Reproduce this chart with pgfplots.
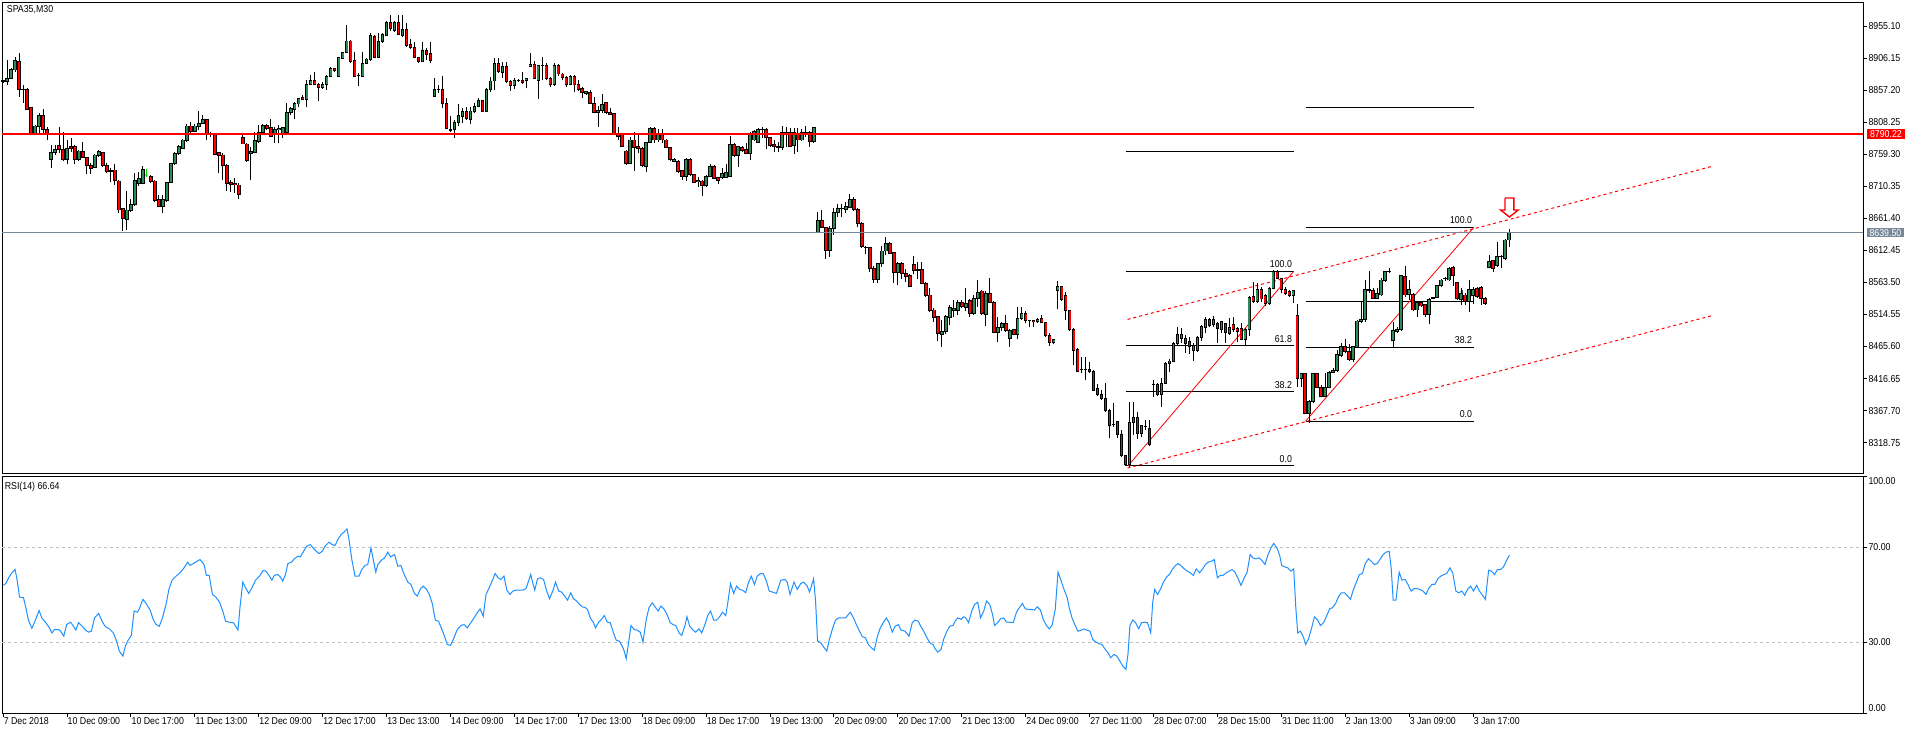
\documentclass[border=0pt]{standalone}
\usepackage{pgfplots}
\pgfplotsset{compat=1.18}
\usepackage{pgfplotstable}
\usetikzlibrary{arrows.meta}
\usepackage{fontspec}
\setmainfont{Liberation Sans}
\newfontfamily\mtfont[FakeStretch=0.88]{Liberation Sans}
\newcommand{\lab}{\mtfont\fontsize{10bp}{12bp}\selectfont}
\definecolor{mtgreen}{RGB}{46,139,87}
\definecolor{bidgray}{RGB}{119,136,153}
\definecolor{rsiblue}{RGB}{30,144,255}
\definecolor{silverc}{RGB}{192,192,192}

\pgfplotstableread{
i o h l c
0 8871.0 8873.0 8868.0 8872.0
1 8870.1 8903.2 8865.0 8875.2
2 8875.2 8890.5 8875.0 8889.4
3 8887.9 8908.3 8885.4 8901.7
4 8900.6 8913.4 8847.2 8858.4
5 8858.4 8865.0 8837.0 8858.0
6 8858.4 8859.9 8826.8 8827.8
7 8830.9 8832.0 8791.0 8791.2
8 8791.2 8804.0 8790.0 8802.4
9 8801.4 8821.7 8788.7 8818.2
10 8818.2 8828.4 8788.7 8797.3
11 8797.3 8801.4 8781.0 8789.7
12 8751.5 8773.4 8738.8 8762.2
13 8761.7 8773.4 8758.1 8766.8
14 8771.9 8801.4 8760.7 8765.8
15 8766.8 8793.7 8749.5 8750.5
16 8751.5 8781.0 8743.9 8768.3
17 8770.8 8783.6 8763.2 8767.8
18 8770.8 8773.4 8743.9 8751.5
19 8751.5 8766.0 8749.0 8764.2
20 8763.2 8778.5 8753.0 8754.0
21 8754.0 8755.6 8729.1 8741.8
22 8741.8 8745.4 8728.6 8737.2
23 8739.3 8759.0 8738.0 8758.1
24 8757.1 8765.8 8755.6 8762.7
25 8762.2 8763.2 8740.3 8741.8
26 8742.8 8745.4 8730.1 8732.7
27 8733.7 8737.8 8717.4 8733.0
28 8735.2 8743.9 8712.3 8718.9
29 8718.4 8720.0 8670.1 8674.1
30 8675.7 8676.7 8642.6 8660.4
31 8658.9 8703.1 8643.6 8674.1
32 8673.1 8690.9 8671.6 8681.8
33 8681.8 8730.1 8680.2 8719.9
34 8714.8 8732.7 8710.8 8722.5
35 8714.8 8741.3 8713.8 8736.2
37 8726.0 8727.6 8715.9 8717.4
38 8718.4 8720.0 8685.8 8687.9
39 8689.4 8697.0 8678.2 8679.2
40 8679.2 8697.0 8670.1 8689.4
41 8688.4 8717.4 8686.8 8716.4
42 8715.9 8746.0 8715.0 8745.4
43 8744.4 8763.2 8742.8 8760.7
44 8760.7 8773.4 8758.1 8770.8
45 8768.3 8782.0 8767.0 8781.0
46 8780.0 8805.5 8778.5 8802.4
47 8802.4 8809.0 8792.2 8793.7
48 8794.7 8805.0 8793.0 8802.4
49 8801.4 8825.3 8796.3 8806.5
50 8806.5 8819.2 8805.5 8811.6
51 8811.6 8813.1 8781.0 8791.2
52 8791.2 8793.7 8786.1 8790.7
53 8791.2 8792.2 8758.1 8759.6
54 8761.7 8763.2 8730.1 8757.1
55 8758.1 8760.7 8719.9 8741.8
56 8742.8 8743.9 8703.1 8714.8
57 8715.9 8719.9 8702.1 8713.3
58 8714.8 8722.5 8699.6 8712.3
59 8712.3 8714.8 8690.9 8698.0
60 8784.6 8788.7 8774.4 8774.9
61 8774.9 8775.9 8748.0 8749.0
62 8760.7 8770.8 8719.9 8763.2
63 8761.7 8793.7 8760.7 8779.5
64 8778.5 8803.9 8776.9 8792.2
65 8792.2 8805.5 8791.2 8803.9
66 8803.9 8805.5 8796.3 8798.8
67 8799.9 8813.1 8785.1 8787.1
68 8788.7 8801.4 8775.9 8797.3
69 8796.3 8803.9 8775.9 8798.8
70 8791.2 8801.4 8783.6 8799.9
71 8792.2 8837.0 8791.2 8823.3
72 8822.8 8831.9 8819.2 8828.4
73 8827.8 8839.6 8812.6 8837.0
74 8836.0 8845.7 8830.9 8844.6
75 8846.2 8849.7 8842.1 8843.1
76 8843.1 8872.6 8830.9 8866.0
77 8866.0 8880.3 8865.0 8872.6
78 8872.6 8885.4 8865.0 8866.5
79 8866.5 8867.6 8841.1 8860.9
80 8860.9 8870.1 8858.4 8866.5
81 8866.5 8880.3 8857.4 8878.7
82 8878.7 8893.0 8877.7 8890.5
83 8890.5 8891.5 8885.4 8886.4
84 8878.7 8908.3 8877.7 8907.3
85 8905.7 8915.9 8904.2 8914.9
86 8914.9 8956.6 8913.4 8932.2
87 8932.2 8933.7 8899.1 8900.6
88 8901.7 8915.9 8876.7 8877.7
89 8879.7 8882.8 8863.5 8879.2
90 8878.7 8915.9 8877.7 8898.1
91 8898.1 8906.0 8897.0 8904.7
92 8903.2 8943.9 8902.2 8940.3
93 8939.8 8940.8 8905.7 8907.3
94 8907.3 8943.9 8905.7 8931.2
95 8931.2 8943.9 8929.6 8941.4
96 8940.3 8963.2 8939.8 8960.7
97 8960.7 8971.9 8948.0 8951.5
98 8948.0 8963.2 8946.4 8960.7
99 8960.7 8971.9 8941.4 8942.4
100 8940.3 8971.9 8938.8 8950.0
101 8950.0 8959.2 8923.5 8925.1
102 8927.1 8934.7 8919.5 8922.0
103 8922.0 8931.2 8905.7 8907.3
104 8907.3 8908.3 8899.1 8900.6
105 8900.6 8931.2 8900.0 8917.4
106 8918.4 8921.0 8903.2 8911.8
107 8913.4 8931.2 8899.1 8901.7
108 8847.2 8875.2 8847.0 8858.4
109 8858.4 8865.0 8853.3 8858.0
110 8858.4 8878.7 8829.4 8837.0
111 8837.0 8844.6 8797.3 8798.8
112 8796.3 8817.7 8793.7 8796.0
113 8796.3 8811.6 8783.6 8808.0
114 8807.5 8836.0 8802.4 8817.7
115 8816.7 8829.4 8806.5 8824.3
116 8824.3 8830.9 8811.6 8813.1
117 8812.6 8831.9 8805.5 8825.3
118 8823.8 8837.0 8821.7 8832.9
119 8832.9 8844.6 8830.9 8840.6
120 8840.6 8842.1 8824.0 8824.3
121 8824.3 8859.9 8824.0 8857.4
122 8857.4 8877.7 8854.8 8871.1
123 8871.1 8905.7 8857.4 8897.1
124 8897.1 8905.7 8882.8 8885.4
125 8884.3 8900.6 8875.2 8893.0
126 8894.0 8900.6 8867.6 8870.1
127 8870.1 8872.6 8856.4 8863.5
128 8864.0 8875.2 8858.4 8872.6
129 8872.1 8873.6 8870.1 8872.2
130 8872.6 8885.4 8866.5 8869.1
131 8871.6 8876.2 8859.9 8874.2
132 8893.0 8914.4 8892.0 8896.6
133 8896.6 8901.7 8873.7 8875.2
134 8871.6 8896.0 8844.1 8895.5
135 8895.5 8908.3 8872.6 8895.3
136 8895.5 8898.1 8872.6 8875.2
137 8875.2 8877.7 8861.4 8866.0
138 8866.0 8898.1 8863.5 8895.5
139 8895.5 8897.1 8878.7 8881.8
140 8881.8 8883.8 8872.6 8876.7
141 8876.7 8878.7 8861.4 8866.5
142 8866.5 8880.3 8865.0 8877.7
143 8877.7 8880.3 8854.8 8865.0
144 8866.5 8872.6 8856.4 8858.4
145 8859.9 8862.5 8844.6 8853.3
146 8851.8 8856.0 8850.0 8854.8
147 8853.8 8857.4 8836.0 8837.0
148 8837.0 8847.2 8821.7 8823.3
149 8823.3 8832.9 8801.4 8826.8
150 8825.8 8850.8 8822.8 8834.5
151 8838.0 8839.6 8820.2 8822.8
152 8823.3 8829.4 8819.2 8820.2
153 8821.7 8822.8 8790.2 8791.2
154 8791.2 8801.4 8781.0 8786.1
155 8790.2 8792.2 8769.8 8770.8
156 8764.2 8765.8 8742.8 8745.4
157 8745.4 8786.1 8744.4 8781.0
158 8781.0 8793.7 8734.2 8769.3
159 8770.8 8788.7 8760.7 8767.3
160 8768.3 8769.8 8740.3 8741.8
161 8740.3 8778.5 8731.6 8777.5
162 8777.5 8800.4 8777.0 8798.8
163 8798.8 8801.4 8775.9 8781.0
164 8781.0 8797.3 8778.5 8791.2
165 8791.2 8797.3 8775.9 8781.0
166 8781.0 8782.0 8768.3 8769.3
167 8769.8 8770.8 8749.5 8750.5
168 8748.4 8753.0 8746.9 8750.5
169 8748.4 8750.5 8731.1 8732.7
170 8734.2 8735.2 8719.9 8726.0
171 8726.0 8753.0 8718.9 8750.5
172 8750.5 8753.0 8726.0 8727.6
173 8727.6 8728.6 8714.8 8716.4
174 8717.4 8725.0 8709.8 8719.9
175 8718.4 8719.9 8696.0 8710.8
176 8710.8 8727.6 8708.7 8726.0
177 8726.0 8744.4 8725.0 8740.3
178 8740.3 8742.8 8721.5 8722.5
179 8723.5 8725.0 8713.8 8718.9
180 8723.5 8737.8 8721.5 8730.1
181 8724.0 8744.4 8722.5 8731.1
182 8725.0 8787.1 8724.0 8773.4
183 8773.4 8775.9 8755.6 8757.6
184 8757.6 8771.9 8740.3 8770.8
185 8769.8 8771.9 8763.2 8764.7
186 8765.8 8775.9 8759.6 8760.7
187 8760.7 8793.7 8750.5 8791.2
188 8781.0 8796.3 8780.0 8793.7
189 8777.0 8798.8 8775.9 8796.3
190 8797.3 8800.4 8783.6 8797.0
191 8797.3 8799.9 8767.8 8784.6
192 8784.6 8786.1 8770.8 8772.4
193 8773.4 8781.0 8762.2 8770.8
194 8770.8 8778.5 8763.2 8769.3
195 8769.3 8802.4 8765.8 8792.2
196 8788.7 8801.4 8770.8 8792.7
197 8792.2 8798.8 8769.8 8770.8
198 8772.4 8798.8 8759.1 8792.2
199 8791.2 8798.8 8763.2 8781.0
200 8781.0 8797.3 8780.0 8792.2
201 8792.2 8802.4 8786.1 8792.0
202 8792.2 8795.3 8770.8 8778.5
203 8778.5 8801.4 8776.9 8800.4
204 8639.5 8671.5 8638.5 8658.8
205 8658.8 8674.1 8646.1 8647.6
206 8647.6 8648.6 8599.3 8612.0
207 8612.0 8649.6 8602.8 8646.1
208 8646.1 8676.6 8635.9 8670.5
209 8670.5 8683.3 8663.9 8676.6
210 8676.6 8683.3 8662.9 8676.4
211 8675.1 8686.8 8670.0 8679.2
212 8678.2 8698.5 8676.6 8689.4
213 8689.4 8694.4 8673.1 8675.1
214 8675.1 8676.6 8647.6 8653.7
215 8653.7 8656.3 8616.6 8618.1
216 8617.1 8619.1 8606.9 8616.9
217 8617.1 8618.1 8579.9 8585.0
218 8585.0 8588.6 8563.1 8568.2
219 8568.2 8593.7 8563.1 8592.7
220 8592.7 8619.1 8587.6 8611.5
221 8611.5 8633.4 8605.4 8623.2
222 8623.2 8625.7 8606.9 8607.9
223 8609.4 8610.5 8563.1 8578.4
224 8578.4 8595.2 8559.6 8592.7
225 8592.7 8595.2 8568.2 8576.4
226 8576.4 8583.5 8564.6 8573.3
227 8573.8 8575.8 8556.0 8557.0
228 8591.6 8603.9 8575.8 8581.5
229 8582.5 8595.2 8568.2 8582.3
230 8582.5 8595.2 8561.1 8562.1
231 8562.1 8564.6 8541.8 8543.3
232 8544.3 8554.5 8518.8 8520.4
233 8521.4 8523.9 8503.6 8509.7
234 8511.2 8512.7 8474.6 8485.8
235 8484.2 8506.1 8465.4 8488.3
236 8489.3 8513.8 8484.7 8511.2
237 8510.2 8529.0 8498.5 8525.5
238 8519.9 8536.7 8510.2 8523.9
239 8519.9 8536.7 8513.8 8533.1
240 8533.1 8536.7 8524.0 8526.5
241 8525.5 8554.5 8520.4 8531.6
242 8535.6 8537.7 8511.2 8516.3
243 8516.3 8544.3 8513.8 8539.2
244 8539.2 8567.2 8526.5 8548.4
245 8550.4 8551.9 8513.8 8516.3
246 8513.8 8550.4 8497.0 8546.9
247 8546.9 8569.7 8531.6 8533.1
248 8533.1 8535.1 8485.8 8486.8
249 8486.8 8510.2 8473.0 8494.9
250 8494.9 8503.6 8489.8 8501.0
251 8501.0 8513.8 8488.3 8489.8
252 8478.1 8491.9 8465.4 8489.8
253 8490.9 8492.4 8483.2 8484.7
254 8484.7 8526.5 8476.6 8508.7
255 8508.7 8526.5 8506.1 8516.3
256 8516.3 8520.4 8501.0 8506.1
257 8505.1 8506.1 8494.9 8505.0
258 8505.1 8506.1 8495.9 8503.1
259 8503.6 8509.7 8501.0 8507.1
260 8508.7 8513.8 8501.0 8502.0
261 8502.6 8503.6 8480.7 8482.2
262 8482.7 8485.8 8466.9 8472.0
263 8471.5 8477.6 8469.0 8475.6
264 8550.9 8565.7 8522.4 8557.0
265 8557.0 8558.0 8535.6 8536.7
266 8542.8 8549.4 8506.1 8520.4
267 8520.4 8521.4 8489.8 8490.9
268 8491.9 8493.4 8437.4 8459.3
269 8461.3 8462.9 8426.2 8427.2
270 8430.8 8450.1 8424.7 8430.6
271 8431.3 8450.1 8414.5 8431.1
272 8430.8 8442.5 8424.7 8427.2
273 8428.2 8429.8 8398.2 8399.2
274 8401.8 8408.4 8390.6 8392.6
275 8392.7 8399.3 8384.0 8386.5
276 8386.5 8410.5 8366.2 8367.7
277 8367.7 8369.7 8325.5 8344.3
278 8346.8 8378.9 8343.3 8346.6
279 8350.9 8352.4 8325.5 8330.6
280 8330.6 8338.2 8297.5 8298.5
281 8298.5 8300.0 8283.2 8284.7
282 8284.7 8381.4 8282.2 8349.4
283 8349.4 8381.4 8330.6 8357.5
284 8357.5 8366.2 8323.9 8333.1
285 8333.1 8345.8 8327.0 8344.3
286 8343.3 8353.5 8338.2 8343.1
287 8340.7 8353.5 8313.8 8315.3
288 8407.9 8414.5 8389.1 8407.7
289 8407.9 8410.5 8390.1 8392.7
290 8392.7 8417.1 8373.8 8409.4
291 8409.4 8442.5 8408.4 8439.0
292 8439.0 8446.1 8427.3 8443.5
293 8442.5 8472.1 8441.5 8469.5
294 8469.5 8495.0 8468.0 8484.3
295 8478.2 8494.5 8470.5 8484.3
296 8478.2 8483.3 8455.3 8469.5
297 8473.1 8479.7 8454.2 8465.4
298 8459.3 8470.5 8444.1 8467.0
299 8459.3 8481.7 8457.8 8479.7
300 8479.7 8498.5 8474.6 8496.0
301 8495.0 8511.2 8485.8 8506.2
302 8506.2 8508.7 8495.0 8497.0
303 8498.5 8512.3 8496.0 8506.2
304 8501.1 8503.6 8471.5 8493.4
305 8490.9 8505.1 8485.8 8503.6
306 8500.1 8502.1 8471.5 8486.8
307 8485.8 8508.7 8483.3 8494.5
308 8498.5 8511.2 8488.3 8490.9
309 8493.4 8496.0 8473.1 8488.3
310 8493.4 8501.1 8475.6 8476.6
311 8475.6 8493.4 8468.0 8490.9
312 8490.9 8542.8 8481.7 8540.8
313 8541.8 8564.7 8531.6 8534.2
314 8534.2 8563.2 8531.6 8552.0
315 8552.0 8557.1 8534.2 8538.2
316 8543.3 8545.4 8528.0 8530.6
317 8530.6 8557.1 8529.1 8554.5
318 8554.5 8582.5 8553.0 8580.0
319 8580.0 8582.5 8568.8 8569.8
320 8569.8 8570.8 8547.9 8553.0
321 8553.0 8556.0 8544.3 8546.9
322 8549.4 8552.0 8541.8 8542.8
323 8543.3 8552.0 8531.6 8551.0
324 8512.3 8530.1 8404.4 8417.1
325 8417.1 8425.7 8404.4 8424.7
326 8424.7 8425.7 8362.6 8363.6
327 8363.6 8384.0 8348.4 8381.4
328 8381.4 8425.7 8379.9 8423.7
329 8423.7 8425.7 8401.8 8403.3
330 8403.3 8406.9 8388.1 8389.1
331 8389.1 8424.7 8388.1 8403.3
332 8403.3 8428.3 8401.8 8426.2
333 8426.2 8432.4 8424.7 8428.8
334 8428.8 8460.4 8427.3 8452.7
335 8451.7 8471.5 8450.2 8465.4
336 8465.4 8476.6 8455.3 8457.8
337 8457.8 8469.5 8444.1 8445.1
338 8445.1 8466.5 8442.5 8465.4
339 8464.4 8506.2 8462.9 8504.6
340 8503.6 8534.2 8501.1 8506.2
341 8506.2 8567.3 8503.6 8552.0
342 8551.0 8581.5 8546.9 8552.0
343 8551.0 8554.5 8538.2 8539.2
344 8539.2 8554.5 8537.7 8546.9
345 8544.3 8569.8 8543.3 8567.2
346 8566.2 8581.5 8564.7 8580.0
347 8580.0 8585.0 8577.4 8580.3
348 8474.6 8503.6 8465.4 8489.9
349 8488.3 8496.0 8486.8 8490.9
350 8490.9 8574.9 8489.9 8573.4
351 8572.3 8588.6 8541.8 8544.3
352 8545.4 8567.2 8536.7 8552.0
353 8545.4 8546.9 8519.9 8521.4
354 8521.4 8534.2 8511.2 8532.6
355 8532.6 8534.2 8526.5 8527.5
356 8529.1 8530.6 8511.2 8513.8
357 8513.8 8539.2 8500.1 8537.7
358 8539.7 8541.8 8537.7 8539.9
359 8540.8 8559.6 8539.2 8558.1
360 8558.1 8568.8 8556.0 8567.2
361 8568.8 8572.3 8566.2 8568.9
362 8567.2 8587.6 8566.2 8585.1
363 8586.6 8588.6 8558.1 8573.4
364 8563.2 8564.7 8536.7 8539.2
365 8536.7 8554.5 8529.1 8545.9
366 8544.3 8546.9 8529.1 8534.2
367 8534.2 8567.2 8518.9 8553.0
368 8542.8 8556.0 8530.6 8553.0
369 8554.5 8556.0 8539.2 8541.8
370 8556.0 8558.1 8529.1 8539.2
371 8539.2 8541.8 8529.1 8530.6
372 8586.6 8605.4 8585.1 8595.2
373 8596.3 8597.8 8580.0 8585.1
374 8589.1 8625.8 8587.6 8602.9
375 8602.9 8605.4 8585.1 8603.1
376 8600.3 8629.3 8597.8 8628.3
377 8628.3 8644.6 8618.1 8639.5
}\candles

\pgfplotstableread{
x y
0.1 54.0
0.7 54.7
1.4 57.1
2.2 59.2
3.0 60.6
3.5 56.4
4.1 49.0
5.1 48.7
5.7 44.5
6.3 39.5
7.2 35.8
8.0 38.9
9.0 43.3
9.7 40.2
10.7 38.2
11.4 36.5
12.2 33.9
12.9 35.3
13.9 35.3
14.4 34.6
15.2 32.5
15.9 37.4
16.9 38.4
17.5 37.0
18.2 35.1
18.9 38.2
19.8 36.7
20.6 35.1
21.4 34.2
22.1 34.6
22.9 40.2
23.9 42.1
24.9 38.4
25.6 36.5
26.6 35.6
27.6 33.9
28.4 30.4
29.1 26.2
30.0 24.1
30.6 28.3
31.3 30.8
32.1 32.8
32.8 43.1
33.6 42.6
34.1 44.0
35.0 48.0
35.8 46.3
36.8 43.5
37.6 39.5
38.3 37.4
39.1 36.7
39.9 40.2
40.8 45.9
41.5 52.2
42.3 56.1
43.3 57.8
44.3 59.2
45.3 61.3
46.2 63.7
46.8 62.3
47.6 63.1
48.6 64.1
49.3 64.8
50.3 62.7
50.9 58.1
51.6 58.1
52.4 50.1
53.2 49.1
54.2 46.8
55.0 43.1
55.7 38.8
56.7 38.4
57.7 38.1
58.8 35.1
59.3 44.5
60.0 55.3
60.7 52.9
61.5 50.5
62.3 52.9
63.2 56.1
64.2 57.8
65.1 60.2
65.8 59.9
66.7 57.8
67.3 56.1
67.9 58.1
68.7 58.5
69.4 57.5
70.0 55.7
70.7 58.5
71.3 63.1
72.2 63.7
72.9 65.1
73.8 66.2
74.4 65.9
75.1 67.9
76.0 70.4
76.9 71.1
77.6 69.7
78.4 68.3
79.1 67.3
79.9 68.3
80.6 70.4
81.6 72.1
82.4 71.1
83.1 70.7
83.8 73.2
84.6 75.3
85.3 76.3
86.1 77.7
86.6 73.2
87.3 64.8
88.1 57.8
89.1 57.8
89.8 60.6
90.6 62.3
91.3 62.7
92.1 69.7
92.5 66.2
93.3 59.5
93.8 62.7
94.7 64.5
95.5 65.5
96.3 67.9
97.0 65.9
98.0 66.9
98.8 62.0
99.6 62.3
100.3 58.9
101.3 55.3
102.1 54.3
103.0 50.5
103.7 49.4
104.5 52.5
105.2 53.6
106.0 52.2
106.7 50.1
107.5 45.9
108.2 39.3
109.0 38.8
109.7 36.0
110.5 32.5
111.2 29.0
112.0 28.6
112.7 31.1
113.7 35.3
114.6 37.0
115.4 37.4
116.2 36.0
117.1 38.2
117.9 40.2
118.7 42.4
119.4 44.0
120.2 40.9
120.9 50.1
121.7 52.9
122.4 55.7
123.2 58.9
123.9 57.1
124.6 56.4
125.4 57.8
126.1 51.9
126.9 50.1
127.6 51.5
128.4 51.9
129.4 51.9
130.1 51.9
130.9 52.5
131.4 55.0
132.1 58.5
132.6 55.0
133.1 51.9
133.8 56.7
134.6 57.1
135.3 56.4
136.1 51.5
136.8 48.3
137.6 51.5
138.3 55.3
139.1 51.5
139.8 51.1
140.6 49.4
141.3 47.7
142.1 50.8
142.8 48.3
143.6 47.3
144.3 45.9
145.0 44.9
145.8 44.5
146.3 43.8
147.0 40.2
147.8 38.2
148.3 36.0
149.0 38.2
149.8 39.6
150.5 41.2
151.3 38.4
152.0 38.2
152.8 33.9
153.5 30.8
154.3 30.4
155.0 28.3
155.5 26.2
156.0 23.0
156.7 31.1
157.2 37.0
158.0 35.3
158.7 35.1
159.5 34.2
160.2 30.0
161.0 39.5
161.7 44.5
162.5 46.6
163.2 44.9
164.0 43.1
164.7 45.2
165.5 43.8
166.2 41.7
167.0 38.2
167.7 37.4
168.4 37.0
169.2 33.9
169.9 32.8
170.7 37.0
171.2 40.7
171.9 36.7
172.7 35.1
173.4 34.2
174.2 35.6
174.9 33.9
175.7 37.4
176.4 41.2
177.1 43.1
177.9 39.3
178.6 39.3
179.4 40.7
180.1 42.6
180.9 41.2
181.4 46.3
182.1 54.7
182.9 50.5
183.6 53.6
184.4 52.2
185.1 51.9
185.9 50.8
186.6 55.0
187.3 57.8
188.1 54.3
188.8 57.8
189.6 58.9
190.3 58.9
191.1 55.7
191.8 51.5
192.6 51.1
193.6 50.5
194.7 56.1
195.7 56.4
196.3 55.3
197.0 50.1
198.0 55.3
198.8 52.2
199.7 54.7
200.4 55.3
201.3 53.6
201.9 51.1
202.9 56.7
203.4 47.3
203.9 30.4
204.7 29.7
205.4 28.0
206.2 26.2
206.9 31.4
207.7 36.0
208.4 39.3
209.2 40.2
209.9 40.2
210.9 40.2
211.4 41.2
212.1 42.6
212.9 40.2
213.6 37.4
214.4 34.6
215.1 32.3
215.9 31.8
216.6 29.0
217.4 27.6
218.1 26.6
218.9 32.5
219.6 36.0
220.4 38.4
221.1 40.2
221.8 38.2
222.6 34.2
223.3 36.7
224.1 37.4
224.8 35.1
225.8 34.6
226.8 32.5
227.6 38.2
228.3 39.3
229.1 38.8
229.8 36.5
230.6 34.2
231.3 31.8
232.0 29.7
232.8 29.0
233.3 27.2
234.0 25.8
234.8 26.9
235.5 31.4
236.3 34.6
237.0 36.7
237.8 37.0
238.5 39.3
239.0 40.2
239.8 39.6
240.5 40.7
241.0 40.2
241.7 38.2
242.5 43.1
243.2 45.9
244.0 46.8
244.7 40.2
245.5 43.1
246.2 47.3
247.0 45.9
247.7 41.7
248.2 37.0
249.0 38.2
249.7 39.8
250.5 40.2
251.2 38.4
252.0 38.4
252.9 38.2
253.7 42.6
254.4 44.5
255.2 46.3
255.9 44.0
256.7 43.8
257.4 43.8
258.2 43.5
258.9 44.9
259.7 43.5
260.4 39.6
261.2 37.0
261.9 35.6
262.6 37.0
263.4 43.8
264.1 59.5
264.9 55.7
265.6 52.2
266.4 48.7
266.9 44.5
267.6 40.2
268.4 37.0
269.1 34.6
269.9 35.0
270.6 35.6
271.4 35.0
272.1 34.6
272.8 31.1
273.6 30.0
274.3 29.4
275.1 29.0
275.8 27.2
276.6 25.5
277.3 23.4
278.1 24.8
278.8 24.1
279.6 22.0
280.3 19.9
281.1 18.5
281.6 24.8
282.1 37.0
282.8 39.3
283.5 38.2
284.3 35.6
285.0 38.2
285.8 38.4
286.5 38.2
287.3 33.9
287.8 46.6
288.3 52.2
289.0 50.1
289.8 52.5
290.5 55.3
291.3 57.5
292.0 58.5
292.8 60.9
293.5 62.3
294.2 63.1
295.0 62.0
295.7 60.9
296.5 59.9
297.2 59.2
298.0 58.1
298.7 60.9
299.5 59.2
300.2 60.6
301.0 62.7
301.7 63.7
302.5 64.1
303.2 64.8
304.0 57.1
304.7 58.1
305.4 58.1
306.2 59.2
306.9 59.9
307.7 60.6
308.4 59.5
309.2 56.7
309.9 53.9
310.7 57.1
311.4 59.2
312.2 66.9
312.9 65.5
313.7 65.1
314.4 65.5
315.1 64.5
315.9 62.7
316.6 66.5
317.4 69.7
318.1 71.6
318.9 69.7
319.6 66.5
320.1 62.3
320.9 61.7
321.6 61.3
322.4 59.9
323.1 60.9
323.6 45.2
324.1 33.9
324.8 34.6
325.6 31.8
326.1 29.0
326.8 31.4
327.6 36.0
328.3 40.7
329.1 39.3
329.8 37.0
330.6 38.2
331.3 40.9
332.1 44.0
332.8 44.5
333.6 46.3
334.3 49.1
335.0 50.8
335.8 50.8
336.5 49.7
337.3 48.0
338.0 51.9
338.8 55.3
339.5 58.4
340.3 58.9
341.0 63.1
341.8 65.1
342.5 64.1
343.3 62.7
344.0 63.1
344.8 65.1
345.5 66.9
346.2 67.9
347.0 68.3
347.5 61.3
348.0 47.7
348.7 47.7
349.5 59.5
350.2 56.1
351.0 56.4
351.7 54.3
352.5 51.5
353.2 52.5
354.0 52.5
354.7 52.2
355.5 51.5
356.2 50.1
357.0 52.9
357.7 54.3
358.4 54.3
359.2 56.7
359.9 57.8
360.7 58.5
361.4 58.9
362.2 61.3
362.9 59.2
363.7 51.5
364.4 50.8
365.2 51.5
365.9 49.7
366.6 52.2
367.4 53.6
368.1 51.5
368.9 53.9
369.6 51.5
370.4 49.7
371.1 48.0
371.9 60.3
372.6 59.9
373.4 58.5
374.1 60.6
374.9 60.6
375.6 61.7
376.3 64.1
377.1 66.64
}\rsidata

\begin{document}
\begin{tikzpicture}[font=\lab]
\fill[white] (0,0) rectangle (1916bp,-734bp);
\path[use as bounding box] (0,0) rectangle (1916bp,-734bp);

% ---------------- main price panel ----------------
\begin{axis}[
  at={(2.3bp,-2.3bp)}, anchor=north west,
  scale only axis, width=1861bp, height=471bp,
  xmin=-0.2, xmax=465.7, ymin=8272.0, ymax=8991.3,
  clip=false,
  axis line style={line width=1bp, black},
  xtick=\empty,
  ytick={8318.75,8367.70,8416.65,8465.60,8514.55,8563.50,8612.45,8661.40,8710.35,8759.30,8808.25,8857.20,8906.15,8955.10},
  yticklabels={8318.75,8367.70,8416.65,8465.60,8514.55,8563.50,8612.45,8661.40,8710.35,8759.30,8808.25,8857.20,8906.15,8955.10},
  ytick pos=right, yticklabel pos=right,
  tick align=outside, major tick length=4bp,
  every tick/.style={black, line width=1bp},
  yticklabel style={anchor=west, inner sep=0pt, xshift=1bp, font=\lab},
]
% Fibonacci retracement 1
\addplot[black, line width=1bp] coordinates {(281.1,8764.2) (323.1,8764.2)};
\addplot[black, line width=1bp] coordinates {(281.1,8580.5) (323.1,8580.5)} node[pos=1, anchor=south east, inner sep=0pt, xshift=-1.3bp, yshift=2.7bp, font=\lab] {100.0};
\addplot[black, line width=1bp] coordinates {(281.1,8466.9) (323.1,8466.9)} node[pos=1, anchor=south east, inner sep=0pt, xshift=-1.3bp, yshift=2.7bp, font=\lab] {61.8};
\addplot[black, line width=1bp] coordinates {(281.1,8396.8) (323.1,8396.8)} node[pos=1, anchor=south east, inner sep=0pt, xshift=-1.3bp, yshift=2.7bp, font=\lab] {38.2};
\addplot[black, line width=1bp] coordinates {(281.1,8283.2) (323.1,8283.2)} node[pos=1, anchor=south east, inner sep=0pt, xshift=-1.3bp, yshift=2.7bp, font=\lab] {0.0};
% Fibonacci retracement 2
\addplot[black, line width=1bp] coordinates {(326.1,8830.6) (368.2,8830.6)};
\addplot[black, line width=1bp] coordinates {(326.1,8647.7) (368.2,8647.7)} node[pos=1, anchor=south east, inner sep=0pt, xshift=-1.3bp, yshift=2.7bp, font=\lab] {100.0};
\addplot[black, line width=1bp] coordinates {(326.1,8534.7) (368.2,8534.7)} node[pos=1, anchor=south east, inner sep=0pt, xshift=-1.3bp, yshift=2.7bp, font=\lab] {61.8};
\addplot[black, line width=1bp] coordinates {(326.1,8464.8) (368.2,8464.8)} node[pos=1, anchor=south east, inner sep=0pt, xshift=-1.3bp, yshift=2.7bp, font=\lab] {38.2};
\addplot[black, line width=1bp] coordinates {(326.1,8351.8) (368.2,8351.8)} node[pos=1, anchor=south east, inner sep=0pt, xshift=-1.3bp, yshift=2.7bp, font=\lab] {0.0};
% trend lines of the retracements
\addplot[red, line width=0.8bp] coordinates {(281.6,8283.2) (323.1,8580.5)};
\addplot[red, line width=0.8bp] coordinates {(326.1,8351.8) (368.2,8647.7)};
% channel
\addplot[red, line width=1bp, dash pattern=on 3bp off 3bp] coordinates {(281.5,8280.0) (428.0,8513.0)};
\addplot[red, line width=1bp, dash pattern=on 3bp off 3bp] coordinates {(281.5,8507.0) (428.0,8741.0)};

% candles: wicks
\addplot[draw=none, mark=none, error bars/.cd, y dir=plus, y explicit, error mark=none,
  error bar style={draw=black, solid, line width=1bp}]
  table[x=i, y=l, y error expr={\thisrow{h}-\thisrow{l}}] {\candles};
% candles: body outline
\addplot[draw=none, mark=none, error bars/.cd, y dir=plus, y explicit, error mark=none,
  error bar style={draw=black, solid, line width=3.6bp}]
  table[x=i, y expr={min(\thisrow{o},\thisrow{c})-0.75}, y error expr={abs(\thisrow{c}-\thisrow{o})+1.5}] {\candles};
% candles: bullish fill
\addplot[draw=none, mark=none, restrict expr to domain={\thisrow{c}-\thisrow{o}}{2:100000},
  error bars/.cd, y dir=plus, y explicit, error mark=none,
  error bar style={draw=mtgreen, solid, line width=1.8bp}]
  table[x=i, y expr={\thisrow{o}+0.75}, y error expr={\thisrow{c}-\thisrow{o}-1.5}] {\candles};
% candles: bearish fill
\addplot[draw=none, mark=none, restrict expr to domain={\thisrow{o}-\thisrow{c}}{2:100000},
  error bars/.cd, y dir=plus, y explicit, error mark=none,
  error bar style={draw=red, solid, line width=1.8bp}]
  table[x=i, y expr={\thisrow{c}+0.75}, y error expr={\thisrow{o}-\thisrow{c}-1.5}] {\candles};

% horizontal level and bid line
\addplot[red, line width=2bp] coordinates {(-0.2,8790.22) (465.7,8790.22)}
  node[pos=1, anchor=west, fill=red, text=white, inner xsep=3bp, inner ysep=0pt, minimum height=9.6bp, text depth=0pt, xshift=2.7bp, font=\lab] {8790.22};
\addplot[bidgray, line width=1bp] coordinates {(-0.2,8639.50) (465.7,8639.50)}
  node[pos=1, anchor=west, fill=bidgray, text=white, inner xsep=3bp, inner ysep=0pt, minimum height=9.6bp, text depth=0pt, xshift=2.7bp, font=\lab] {8639.50};

% arrows
\addplot[draw=red, fill=white, line width=1.4bp] coordinates {(376.0,8692.4) (378.2,8692.4) (378.2,8674.1) (379.3,8674.1) (377.1,8663.4) (374.9,8674.1) (376.0,8674.1) (376.0,8692.4)};
\addplot[green!90!black, line width=1bp, -{Stealth[length=3bp, width=3bp]}] coordinates {(35.9,8737.0) (35.9,8724.0)};
\end{axis}

\node[anchor=west, inner sep=0pt] at (6.7bp,-9.5bp) {SPA35,M30};

% ---------------- RSI panel ----------------
\begin{axis}[
  at={(2.3bp,-476bp)}, anchor=north west,
  scale only axis, width=1861bp, height=237.3bp,
  xmin=-0.2, xmax=465.7, ymin=0, ymax=100,
  clip=false,
  axis line style={line width=1bp, black},
  xtick={0,16,32,48,64,80,96,112,128,144,160,176,192,208,224,240,256,272,288,304,320,336,352,368},
  xticklabels={7 Dec 2018,10 Dec 09:00,10 Dec 17:00,11 Dec 13:00,12 Dec 09:00,12 Dec 17:00,13 Dec 13:00,14 Dec 09:00,14 Dec 17:00,17 Dec 13:00,18 Dec 09:00,18 Dec 17:00,19 Dec 13:00,20 Dec 09:00,20 Dec 17:00,21 Dec 13:00,24 Dec 09:00,27 Dec 11:00,28 Dec 07:00,28 Dec 15:00,31 Dec 11:00,2 Jan 13:00,3 Jan 09:00,3 Jan 17:00},
  xtick pos=bottom,
  xticklabel style={anchor=north west, inner sep=0pt, xshift=0.5bp, font=\lab},
  ytick={0,30,70,100},
  yticklabels={\raisebox{5bp}[\height][\depth]{0.00},30.00,70.00,\raisebox{-5bp}[\height][\depth]{100.00}},
  ytick pos=right, yticklabel pos=right,
  tick align=outside, major tick length=4bp,
  every tick/.style={black, line width=1bp},
  yticklabel style={anchor=west, inner sep=0pt, xshift=1bp, font=\lab},
]
\addplot[silverc, line width=1bp, dash pattern=on 3bp off 3bp] coordinates {(-0.2,70) (465.7,70)};
\addplot[silverc, line width=1bp, dash pattern=on 3bp off 3bp] coordinates {(-0.2,30) (465.7,30)};
\addplot[rsiblue, line width=1bp] table[x=x, y=y] {\rsidata};
\end{axis}

\node[anchor=west, inner sep=0pt] at (4.6bp,-487bp) {RSI(14) 66.64};
\end{tikzpicture}
\end{document}
